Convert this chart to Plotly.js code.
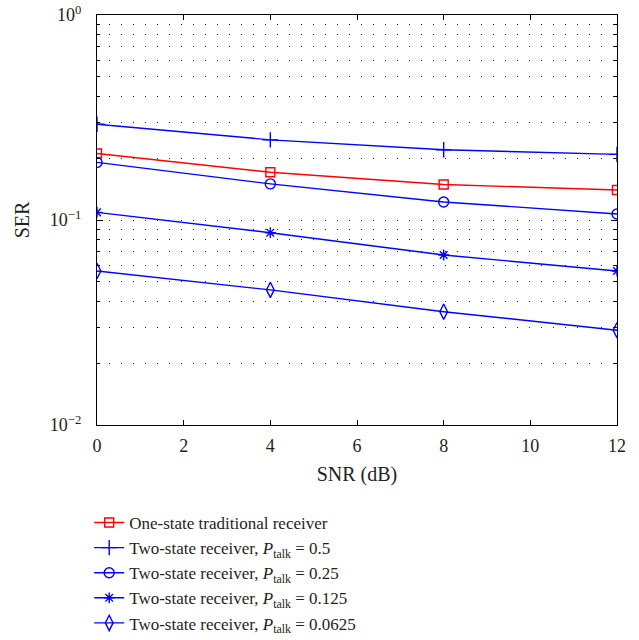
<!DOCTYPE html>
<html>
<head>
<meta charset="utf-8">
<script src="https://cdn.plot.ly/plotly-3.0.1.min.js"></script>
<style>html,body{margin:0;padding:0;background:#fff;}#chart{width:639px;height:640px;}</style>
</head>
<body>
<div id="chart"></div>
<script>
var snr = [0, 4, 8, 12];
var oneState = [0.211, 0.171, 0.149, 0.140];
var twoState05 = [0.293, 0.246, 0.220, 0.209];
var twoState025 = [0.191, 0.150, 0.1225, 0.107];
var twoState0125 = [0.109, 0.0867, 0.0675, 0.0564];
var twoState00625 = [0.0564, 0.0456, 0.0357, 0.029];

var seriesNames = [
  'One-state traditional receiver',
  'Two-state receiver, <i>P</i><sub>talk</sub> = 0.5',
  'Two-state receiver, <i>P</i><sub>talk</sub> = 0.25',
  'Two-state receiver, <i>P</i><sub>talk</sub> = 0.125',
  'Two-state receiver, <i>P</i><sub>talk</sub> = 0.0625'
];
var xTickVals = [0, 2, 4, 6, 8, 10, 12];
var yTickVals = [0.01, 0.1, 1];
var yTickText = ['10<sup>\u22122</sup>', '10<sup>\u22121</sup>', '10<sup>0</sup>'];
var yMinorVals = [0.02,0.03,0.04,0.05,0.06,0.07,0.08,0.09,0.2,0.3,0.4,0.5,0.6,0.7,0.8,0.9];

function tr(y, name, color, symbol, size) {
  return {
    x: snr, y: y, name: name, type: 'scatter', mode: 'lines+markers',
    line: {color: color, width: 1.4},
    marker: {symbol: symbol, size: size, color: color, line: {color: color, width: 1.4}}
  };
}
var data = [
  tr(oneState, seriesNames[0], '#ff0000', 'square-open', 9),
  tr(twoState05, seriesNames[1], '#0000ff', 'cross-thin-open', 11),
  tr(twoState025, seriesNames[2], '#0000ff', 'circle-open', 10),
  tr(twoState0125, seriesNames[3], '#0000ff', 'asterisk-open', 9),
  tr(twoState00625, seriesNames[4], '#0000ff', 'diamond-tall-open', 11)
];

var layout = {
  width: 639, height: 640,
  margin: {l: 97, r: 22, t: 15, b: 215, autoexpand: false},
  paper_bgcolor: '#fff', plot_bgcolor: '#fff',
  font: {family: 'Liberation Serif, Times New Roman, serif', size: 18, color: '#231f20'},
  showlegend: true,
  legend: {x: -0.015, xanchor: 'left', y: -0.195, yanchor: 'top', bgcolor: 'rgba(0,0,0,0)',
           font: {size: 17, color: '#231f20'}, tracegroupgap: 0, itemwidth: 30},
  xaxis: {
    range: [0, 12], tickmode: 'array', tickvals: xTickVals,
    ticks: 'inside', ticklen: 5, tickcolor: '#000', tickwidth: 1,
    showline: true, linecolor: '#000', linewidth: 1.2, mirror: 'ticks',
    showgrid: false, zeroline: false, ticklabelstandoff: 4,
    tickfont: {size: 18}, title: {text: 'SNR (dB)', font: {size: 20}, standoff: 12}
  },
  yaxis: {
    type: 'log', range: [-2, 0], tickmode: 'array', tickvals: yTickVals, ticktext: yTickText,
    ticks: 'inside', ticklen: 6, tickcolor: '#000', tickwidth: 1,
    showline: true, linecolor: '#000', linewidth: 1.2, mirror: 'ticks',
    showgrid: true, gridcolor: '#222', gridwidth: 1, griddash: '1px,11px',
    zeroline: false, tickfont: {size: 18}, ticklabelstandoff: 11,
    minor: {tickmode: 'array', tickvals: yMinorVals, ticks: 'inside', ticklen: 3,
            tickcolor: '#000', showgrid: true, gridcolor: '#222', gridwidth: 1, griddash: '1px,11px'},
    title: {text: 'SER', font: {size: 20}, standoff: 14}
  }
};
Plotly.newPlot('chart', data, layout, {displayModeBar: false, staticPlot: true});
</script>
</body>
</html>
